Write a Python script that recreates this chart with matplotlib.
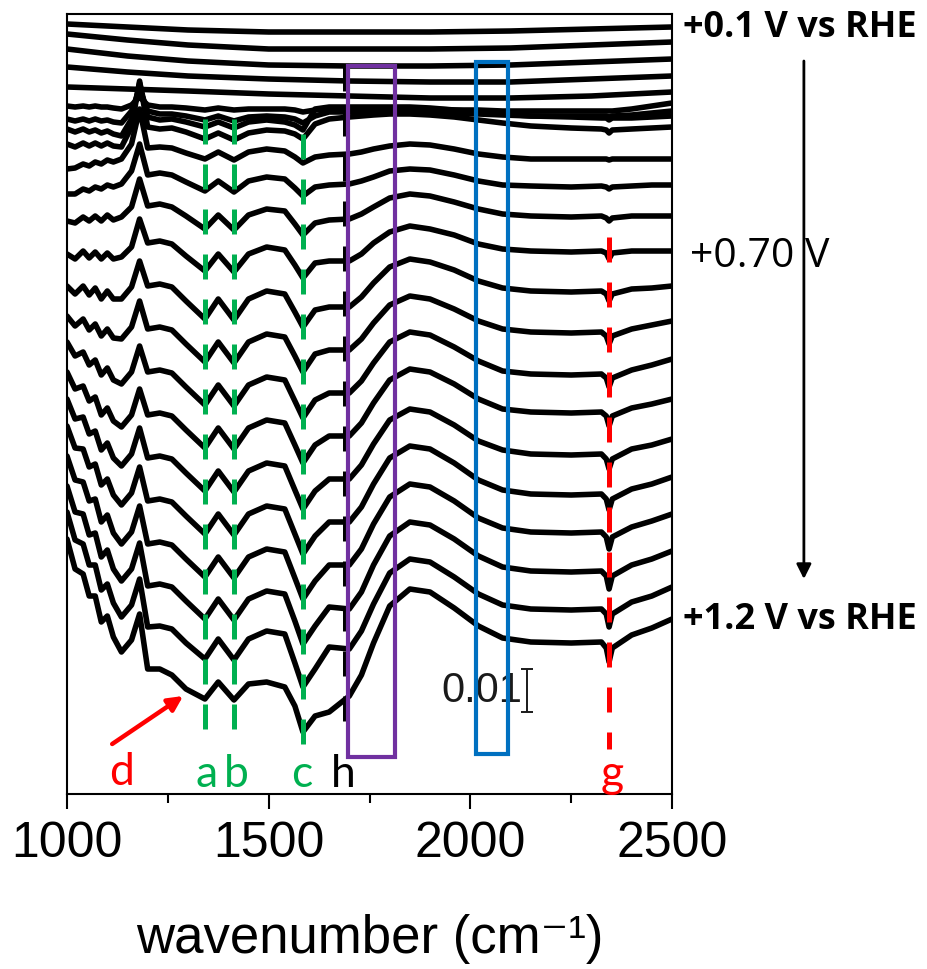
import numpy as np
import matplotlib
matplotlib.use("Agg")
import matplotlib.pyplot as plt
import matplotlib.transforms as mtransforms
from matplotlib.patches import Rectangle

plt.rcParams['lines.scale_dashes'] = False
plt.rcParams['font.family'] = ['Liberation Sans', 'DejaVu Sans']

# ---------------- data ----------------
# wavenumber knots (cm-1)
X_FLAT = [1000, 1150, 1300, 1500, 1700, 1900, 2100, 2300, 2500]
X_KNOTS = [1000, 1020, 1040, 1055, 1070, 1085, 1100, 1115, 1135, 1160,
           1180, 1200, 1230, 1260, 1295, 1342, 1375, 1414, 1450, 1495,
           1540, 1565, 1585, 1615, 1650, 1700, 1730, 1760, 1800, 1850,
           1900, 1960, 2020, 2080, 2150, 2250, 2325, 2337, 2344, 2352,
           2400, 2450, 2500]

# stacked spectra (offset included), units of 0.01/43 absorbance
E010 = [770, 767, 764, 762, 762, 762, 763, 765, 767]
E015 = [760, 754, 749, 745, 745, 745, 746, 749, 752]
E020 = [745, 738, 733, 729, 728, 728, 729, 732, 735]
E025 = [727, 722, 718, 715, 713, 712, 712, 715, 718]
E030 = [707, 705, 703, 700, 698, 696, 696, 698, 702]
E035 = [688, 687, 688, 687, 688, 687, 687, 686, 685, 689,
        697, 689, 687, 687, 686, 684, 686, 684, 685, 685,
        685, 684, 682, 684, 685, 685, 685, 685, 685, 685,
        685, 684, 684, 683, 683, 683, 683, 683, 683, 683,
        685, 688, 691]
E040 = [675, 673, 675, 673, 675, 673, 674, 672, 671, 683,
        705, 683, 680, 680, 678, 674, 678, 673, 677, 678,
        677, 675, 671, 678, 682, 682, 682, 682, 682, 682,
        682, 681, 680, 679, 678, 678, 678, 678, 677, 678,
        679, 681, 683]
E045 = [665, 662, 665, 662, 664, 661, 663, 660, 658, 675,
        711, 677, 674, 675, 672, 667, 672, 666, 672, 674,
        672, 669, 664, 685, 687, 687, 687, 687, 687, 687,
        686, 684, 682, 680, 678, 677, 676, 676, 674, 676,
        676, 677, 678]
E050 = [650, 647, 651, 648, 651, 648, 651, 648, 647, 667,
        713, 667, 665, 666, 662, 655, 661, 654, 661, 664,
        663, 660, 655, 670, 675, 677, 678, 679, 680, 680,
        679, 677, 674, 671, 668, 666, 665, 664, 661, 664,
        665, 666, 667]
E055 = [625, 626, 630, 628, 632, 630, 634, 632, 635, 650,
        685, 646, 647, 646, 641, 635, 642, 634, 642, 645,
        643, 637, 631, 637, 639, 640, 642, 645, 648, 650,
        649, 645, 640, 637, 635, 635, 635, 635, 634, 635,
        635, 635, 635]
E060 = [600, 600, 605, 603, 607, 605, 609, 607, 610, 623,
        650, 619, 621, 619, 612, 603, 613, 602, 613, 617,
        615, 606, 598, 607, 609, 610, 613, 617, 623, 625,
        624, 619, 613, 609, 608, 607, 608, 607, 605, 607,
        608, 609, 609]
E065 = [573, 571, 577, 573, 578, 573, 579, 574, 577, 587,
        615, 588, 590, 587, 578, 565, 579, 564, 579, 585,
        583, 570, 559, 571, 574, 575, 580, 587, 596, 600,
        598, 592, 585, 580, 578, 577, 578, 576, 573, 576,
        578, 578, 578]
E070 = [540, 535, 543, 536, 542, 535, 541, 535, 537, 547,
        575, 551, 553, 550, 538, 523, 540, 522, 540, 547,
        544, 529, 516, 531, 533, 533, 540, 551, 562, 568,
        565, 559, 550, 545, 543, 542, 543, 541, 535, 541,
        543, 543, 543]
E075 = [508, 500, 508, 499, 506, 495, 503, 495, 495, 507,
        533, 508, 510, 507, 493, 475, 495, 474, 495, 503,
        500, 482, 467, 484, 487, 487, 497, 511, 527, 535,
        532, 524, 513, 506, 503, 502, 503, 500, 493, 500,
        505, 506, 508]
E080 = [478, 468, 475, 464, 470, 458, 465, 456, 455, 467,
        493, 465, 467, 464, 450, 432, 452, 431, 452, 460,
        457, 438, 422, 440, 444, 444, 455, 471, 489, 498,
        495, 485, 473, 465, 462, 461, 462, 458, 450, 458,
        465, 469, 473]
E085 = [452, 438, 442, 429, 434, 419, 426, 414, 410, 422,
        448, 422, 424, 421, 407, 389, 409, 388, 409, 417,
        414, 393, 376, 394, 401, 401, 413, 431, 452, 462,
        459, 447, 433, 423, 420, 419, 420, 416, 407, 416,
        424, 429, 435]
E090 = [422, 405, 408, 393, 397, 379, 386, 373, 367, 379,
        405, 379, 381, 378, 364, 346, 366, 345, 366, 374,
        371, 349, 331, 349, 358, 358, 371, 391, 414, 425,
        422, 410, 395, 385, 382, 381, 382, 378, 368, 378,
        386, 390, 395]
E095 = [395, 375, 377, 360, 363, 344, 351, 336, 328, 340,
        366, 336, 338, 335, 321, 303, 323, 302, 323, 331,
        328, 304, 285, 303, 315, 315, 329, 350, 374, 385,
        382, 369, 353, 344, 340, 339, 340, 335, 325, 335,
        345, 349, 355]
E100 = [368, 346, 345, 327, 330, 309, 315, 299, 289, 301,
        327, 293, 295, 292, 278, 260, 280, 259, 280, 288,
        285, 260, 240, 258, 272, 272, 287, 310, 336, 348,
        345, 331, 314, 304, 300, 299, 300, 295, 284, 295,
        305, 310, 317]
E105 = [338, 314, 312, 293, 295, 272, 279, 261, 250, 262,
        288, 250, 252, 249, 235, 217, 237, 216, 237, 245,
        242, 216, 195, 213, 229, 229, 245, 270, 297, 310,
        307, 293, 276, 266, 262, 261, 262, 257, 245, 257,
        267, 273, 280]
E110 = [308, 282, 280, 259, 261, 237, 244, 225, 213, 225,
        251, 208, 210, 207, 193, 175, 195, 174, 195, 203,
        200, 173, 150, 168, 187, 185, 202, 229, 258, 272,
        269, 255, 238, 227, 223, 222, 223, 218, 205, 218,
        229, 235, 243]
E115 = [282, 254, 250, 229, 229, 204, 210, 191, 177, 189,
        215, 167, 168, 165, 151, 135, 155, 134, 155, 163,
        160, 131, 107, 125, 147, 145, 163, 190, 221, 235,
        232, 217, 200, 189, 185, 184, 185, 180, 167, 180,
        192, 198, 207]
E120 = [255, 225, 220, 198, 198, 172, 178, 157, 142, 154,
        180, 125, 125, 119, 105, 95, 112, 94, 110, 112,
        107, 88, 62, 78, 82, 98, 119, 151, 188, 205,
        202, 186, 168, 156, 152, 151, 152, 146, 132, 146,
        159, 166, 175]

SPECTRA = [(X_FLAT, E010), (X_FLAT, E015), (X_FLAT, E020), (X_FLAT, E025),
           (X_FLAT, E030), (X_KNOTS, E035), (X_KNOTS, E040), (X_KNOTS, E045),
           (X_KNOTS, E050), (X_KNOTS, E055), (X_KNOTS, E060), (X_KNOTS, E065),
           (X_KNOTS, E070), (X_KNOTS, E075), (X_KNOTS, E080), (X_KNOTS, E085),
           (X_KNOTS, E090), (X_KNOTS, E095), (X_KNOTS, E100), (X_KNOTS, E105),
           (X_KNOTS, E110), (X_KNOTS, E115), (X_KNOTS, E120)]

UNIT = 0.01 / 43.0          # one stored unit in absorbance
Y_TOP = 780                 # axis top in stored units

# band markers: position (cm-1), label, colour, dashed span (stored units)
BAND_POS = [1342, 1414, 1585, 1689, 2344]
BAND_LBL = ['a', 'b', 'c', 'h', 'g']
BAND_COL = ['#00B050', '#00B050', '#00B050', '#000000', '#FF0000']
BAND_TOP = [675, 675, 660, 728, 557]
BAND_BOT = [65, 65, 50, 55, 45]
LBL_X = [1347, 1419, 1583, 1684, 2351]

# highlight boxes (cm-1 range, stored-unit range)
BOX_PURPLE = (1697, 1813, 37, 728)
BOX_BLUE = (2014, 2093, 40, 732)

# ---------------- figure ----------------
fig = plt.figure(figsize=(9.28, 9.70), dpi=100)
ax = fig.add_axes([67 / 928, 1 - 795 / 970, 605 / 928, 780 / 970])

for xs, ys in SPECTRA:
    ax.plot(xs, np.asarray(ys) * UNIT, color='black', lw=4.0,
            solid_joinstyle='round', solid_capstyle='round', zorder=2)

for pos, col, top, bot in zip(BAND_POS, BAND_COL, BAND_TOP, BAND_BOT):
    ax.plot([pos, pos], [top * UNIT, bot * UNIT], color=col, lw=3.6,
            linestyle=(0, (18, 14.4)), solid_capstyle='butt', zorder=3)

for lbl, lx, col in zip(BAND_LBL, LBL_X, BAND_COL):
    ax.text(lx, 8 * UNIT, lbl, color=col, fontsize=32, ha='center',
            va='baseline', family=['Lato', 'DejaVu Sans'], zorder=5)

ax.text(1136, 10 * UNIT, 'd', color='#FF0000', fontsize=32, ha='center',
        va='baseline', family=['Lato', 'DejaVu Sans'], zorder=5)
ax.annotate('', xy=(1288, 98 * UNIT), xytext=(1112, 50 * UNIT),
            arrowprops=dict(arrowstyle='-|>', color='#FF0000', lw=3.2,
                            mutation_scale=22, shrinkA=0, shrinkB=0), zorder=5)

for (x0, x1, y0, y1), col in [(BOX_PURPLE, '#7030A0'), (BOX_BLUE, '#0070C0')]:
    ax.add_patch(Rectangle((x0, y0 * UNIT), x1 - x0, (y1 - y0) * UNIT,
                           fill=False, edgecolor=col, lw=3.0, zorder=6))

# scale bar
ax.errorbar([2140], [82 * UNIT + 0.005], yerr=[0.005], fmt='none',
            ecolor='#1a1a1a', elinewidth=1.4, capsize=4.5, capthick=1.4, zorder=5)
ax.text(2128, 104 * UNIT, '0.01', ha='right', va='center', fontsize=30,
        color='#1a1a1a', family=['Liberation Sans Narrow', 'Liberation Sans'], zorder=4)

# right-side potential labels
trans = mtransforms.blended_transform_factory(ax.transAxes, ax.transData)
ax.text(1.018, E010[-1] * UNIT, '+0.1 V vs RHE', transform=trans, ha='left',
        va='center', fontsize=26, fontweight='bold',
        family=['Open Sans', 'DejaVu Sans'], clip_on=False)
ax.text(1.018, E120[-1] * UNIT, '+1.2 V vs RHE', transform=trans, ha='left',
        va='center', fontsize=26, fontweight='bold',
        family=['Open Sans', 'DejaVu Sans'], clip_on=False)
ax.text(1.030, (E070[-1] - 5) * UNIT, '+0.70 V', transform=trans, ha='left',
        va='center', fontsize=29.5, family=['Open Sans', 'DejaVu Sans'],
        clip_on=False, zorder=6)
ax.annotate('', xy=(1.218, 215 * UNIT), xytext=(1.218, 733 * UNIT),
            xycoords=trans, textcoords=trans,
            arrowprops=dict(arrowstyle='-|>', color='black', lw=2.0,
                            mutation_scale=22, shrinkA=0, shrinkB=0))

# axes styling
ax.set_xlim(1000, 2500)
ax.set_ylim(0, Y_TOP * UNIT)
ax.set_yticks([])
ax.set_xticks([1000, 1500, 2000, 2500])
ax.set_xticks([1250, 1750, 2250], minor=True)
ax.tick_params(axis='x', which='major', direction='out', length=10.8,
               width=1.5, labelsize=36, pad=8, top=False)
ax.tick_params(axis='x', which='minor', direction='out', length=6.5,
               width=1.5, top=False)
for sp in ax.spines.values():
    sp.set_linewidth(1.5)
ax.set_xlabel('wavenumber (cm\u207b\u00b9)', fontsize=38,
              family=['Liberation Sans', 'DejaVu Sans'], labelpad=34)

fig.savefig('out.png', dpi=100)
